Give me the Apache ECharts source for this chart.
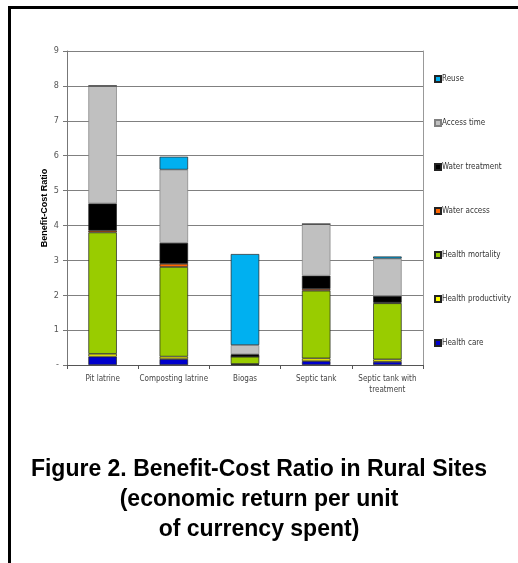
<!DOCTYPE html>
<html>
<head>
<meta charset="utf-8">
<script src="https://cdn.jsdelivr.net/npm/echarts@6/dist/echarts.min.js"></script>
<style>
html,body{margin:0;padding:0;background:#fff;}
#chart{width:518px;height:563px;position:absolute;left:0;top:0;}
#frame{position:absolute;left:8px;top:6px;width:530px;height:580px;border-top:3px solid #000;border-left:3px solid #000;pointer-events:none;}
</style>
</head>
<body>
<div id="chart"></div>
<div id="frame"></div>
<script>
const categories = ['Pit latrine', 'Composting latrine', 'Biogas', 'Septic tank', 'Septic tank with\ntreatment'];
const yTicks = [0, 1, 2, 3, 4, 5, 6, 7, 8, 9];
const healthCare         = [0.24, 0.17, 0.02, 0.11, 0.09];
const healthProductivity = [0.08, 0.07, 0.01, 0.08, 0.07];
const healthMortality    = [3.48, 2.57, 0.21, 1.94, 1.61];
const waterAccess        = [0.05, 0.09, 0.00, 0.05, 0.02];
const waterTreatment     = [0.78, 0.60, 0.07, 0.38, 0.19];
const accessTime         = [3.37, 2.10, 0.26, 1.48, 1.07];
const reuse              = [0.00, 0.37, 2.61, 0.00, 0.06];

const seriesDefs = [
  ['Health care', healthCare, '#0000CC'],
  ['Health productivity', healthProductivity, '#FFFF00'],
  ['Health mortality', healthMortality, '#99CC00'],
  ['Water access', waterAccess, '#FF6600'],
  ['Water treatment', waterTreatment, '#000000'],
  ['Access time', accessTime, '#C0C0C0'],
  ['Reuse', reuse, '#00B0F0']
];
const narrow = "'Liberation Sans Narrow', 'DejaVu Sans Condensed', 'Arial Narrow', 'Liberation Sans', sans-serif";

const chart = echarts.init(document.getElementById('chart'), null, {renderer: 'canvas'});
chart.setOption({
  animation: false,
  backgroundColor: '#fff',
  graphic: [{
    type: 'text', x: 259, y: 455,
    style: {
      text: 'Figure 2. Benefit-Cost Ratio in Rural Sites\n(economic return per unit\nof currency spent)',
      align: 'center', verticalAlign: 'top',
      font: "bold 23px 'Liberation Sans', Arial, sans-serif", lineHeight: 30, fill: '#000'
    }
  }],
  grid: {left: 67, right: 95, top: 51, bottom: 198},
  legend: {
    orient: 'vertical', left: 429, top: 70,
    data: seriesDefs.map(s => s[0]).reverse(),
    itemWidth: 6, itemHeight: 6, itemGap: 36,
    icon: 'rect',
    textStyle: {fontFamily: narrow, fontSize: 8, color: '#333', padding: [0, 0, 0, -4]}
  },
  xAxis: {
    type: 'category', data: categories,
    axisLine: {lineStyle: {color: '#555', width: 1}},
    axisTick: {show: true, length: 4, lineStyle: {color: '#555'}},
    axisLabel: {fontFamily: narrow, fontSize: 8, color: '#444', margin: 8, lineHeight: 11, interval: 0}
  },
  yAxis: [{
    type: 'value', min: 0, max: 9, interval: 1,
    name: 'Benefit-Cost Ratio', nameLocation: 'middle', nameRotate: 90, nameGap: 18,
    nameMoveOverlap: false,
    nameTextStyle: {fontFamily: "'Liberation Sans', Arial, sans-serif", fontWeight: 'bold', fontSize: 9, color: '#000'},
    axisLine: {show: true, lineStyle: {color: '#777'}},
    axisTick: {show: true, length: 4, lineStyle: {color: '#777'}},
    axisLabel: {fontFamily: narrow, fontSize: 9, color: '#555', margin: 8,
      formatter: v => yTicks.indexOf(v) === 0 ? '-' : String(v)},
    splitLine: {lineStyle: {color: '#808080', width: 1}}
  }, {
    type: 'value', min: 0, max: 9, interval: 1, position: 'right',
    axisLine: {show: true, lineStyle: {color: '#999'}},
    axisTick: {show: false}, axisLabel: {show: false}, splitLine: {show: false}
  }],
  series: seriesDefs.map(([name, data, color]) => ({
    name, type: 'bar', stack: 'total', data, barWidth: '40%',
    itemStyle: {color, borderColor: color === '#C0C0C0' ? '#808080' : '#222', borderWidth: 0.7}
  }))
});
</script>
</body>
</html>
